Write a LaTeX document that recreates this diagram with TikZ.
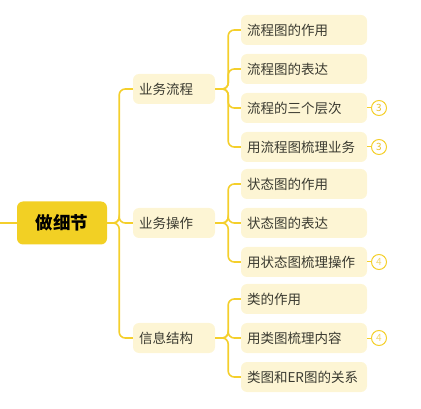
\documentclass[tikz,border=0pt]{standalone}
\usepackage{fontspec}
\setmainfont{Noto Sans CJK SC}
\usetikzlibrary{positioning}

\definecolor{mmline}{HTML}{F4CF2C}
\definecolor{mmroot}{HTML}{F2D024}
\definecolor{mmpale}{HTML}{FDF5D4}
\definecolor{mmtext}{HTML}{3A3A30}
\definecolor{mmthree}{HTML}{E6BE2A}
\definecolor{mmfour}{HTML}{F2D66E}

\tikzset{
  link/.style={draw=mmline, line width=1.6pt, rounded corners=6pt},
  rootbox/.style={fill=mmroot, rounded corners=6pt, minimum width=90pt, minimum height=43pt,
    font=\fontsize{17.5}{20}\selectfont\bfseries, text=black},
  topic/.style={fill=mmpale, rounded corners=6pt, minimum height=30pt, text width=70pt,
    inner xsep=6pt, align=left, font=\fontsize{13.5}{16}\selectfont, text=mmtext},
  subtopic/.style={topic, text width=114pt},
  badge/.style={circle, draw=mmline, line width=1pt, minimum size=15pt, inner sep=0pt,
    font=\fontsize{10}{10}\selectfont},
}

\begin{document}
\begin{tikzpicture}[x=1pt, y=-1pt]
  \useasboundingbox (0,0) rectangle (421,409);

  % root
  \coordinate (in) at (0,223);
  \node[rootbox] (root) at (62,223) {做细节};

  % first level
  \node[topic] (flow) at (174,89) {业务流程};
  \node[topic] (oper) at (174,223) {业务操作};
  \node[topic] (info) at (174,338) {信息结构};

  % second level
  \node[subtopic] (flowA) at (304,30) {流程图的作用};
  \node[subtopic] (flowB) at (304,69) {流程图的表达};
  \node[subtopic] (flowC) at (304,108) {流程的三个层次};
  \node[subtopic] (flowD) at (304,147) {用流程图梳理业务};
  \node[subtopic] (operA) at (304,184) {状态图的作用};
  \node[subtopic] (operB) at (304,223) {状态图的表达};
  \node[subtopic] (operC) at (304,262) {用状态图梳理操作};
  \node[subtopic] (infoA) at (304,299) {类的作用};
  \node[subtopic] (infoB) at (304,338) {用类图梳理内容};
  \node[subtopic] (infoC) at (304,377) {类图和ER图的关系};

  % badges
  \node[badge, text=mmthree] (cntC) at (379,108) {3};
  \node[badge, text=mmthree] (cntD) at (379,147) {3};
  \node[badge, text=mmfour] (cntO) at (379,262) {4};
  \node[badge, text=mmfour] (cntI) at (379,338) {4};

  % connectors
  \draw[link] (in) -- (root.west);
  \foreach \t in {flow,oper,info}
    \draw[link] (root.east) -- ++(12,0) |- (\t.west);
  \foreach \s in {A,B,C,D}
    \draw[link] (flow.east) -- ++(13,0) |- (flow\s.west);
  \foreach \s in {A,B,C}
    \draw[link] (oper.east) -- ++(13,0) |- (oper\s.west);
  \foreach \s in {A,B,C}
    \draw[link] (info.east) -- ++(13,0) |- (info\s.west);
  \draw[link, line width=1pt] (flowC.east) -- (cntC.west);
  \draw[link, line width=1pt] (flowD.east) -- (cntD.west);
  \draw[link, line width=1pt] (operC.east) -- (cntO.west);
  \draw[link, line width=1pt] (infoB.east) -- (cntI.west);
\end{tikzpicture}
\end{document}
